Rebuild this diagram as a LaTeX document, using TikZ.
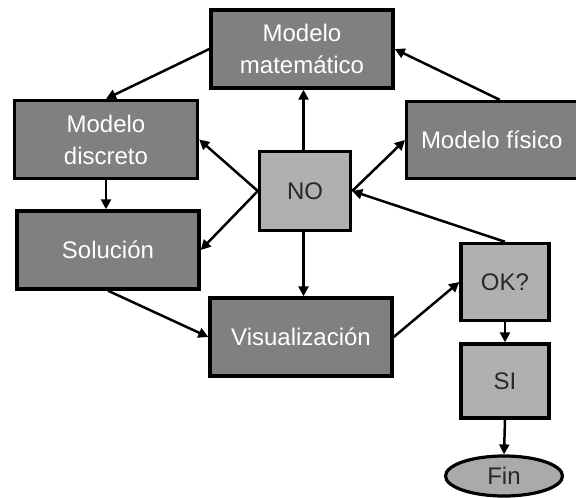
\documentclass[tikz,border=0pt]{standalone}
\usepackage{fontspec}
\setmainfont{Liberation Sans}
\usetikzlibrary{arrows.meta,shapes.geometric}
\definecolor{boxdark}{RGB}{128,128,128}
\definecolor{boxlight}{RGB}{176,176,176}
\definecolor{endfill}{RGB}{170,170,170}
\definecolor{inktext}{RGB}{40,40,40}
\begin{document}
\begin{tikzpicture}[x=1pt,y=-1pt,
  boxbase/.style={draw=black,line width=3.4pt,align=center,inner sep=0pt,
    font=\fontsize{24}{32}\selectfont},
  darkbox/.style={boxbase,fill=boxdark,text=white},
  lightbox/.style={boxbase,fill=boxlight,text=inktext},
  flow/.style={line width=2.5pt,-{Triangle[length=10pt,width=10pt]}}]
\useasboundingbox (0,0) rectangle (576,498);
% process boxes
\node[darkbox,minimum width=182pt,minimum height=78pt] (mat) at (302,49) {Modelo\\matemático};
\node[darkbox,minimum width=183pt,minimum height=78pt] (disc) at (106,139.5) {Modelo\\discreto};
\node[darkbox,minimum width=180pt,minimum height=77pt,anchor=west] (fis) at (405,140) {Modelo físico\hspace{10pt}};
\node[darkbox,minimum width=182pt,minimum height=78pt] (sol) at (108,250) {Solución};
\node[darkbox,minimum width=182pt,minimum height=78pt] (vis) at (301,337) {Visualización};
% decision boxes
\node[lightbox,minimum width=91pt,minimum height=79pt] (no) at (305,191) {NO};
\node[lightbox,minimum width=88pt,minimum height=77pt] (ok) at (505,282) {OK?};
\node[lightbox,minimum width=88pt,minimum height=74pt] (si) at (505,381) {SI};
\node[ellipse,draw=black,line width=3.2pt,fill=endfill,text=inktext,inner sep=0pt,
  minimum width=117pt,minimum height=40pt,font=\fontsize{24}{32}\selectfont] (fin) at (504,476) {Fin};
% connectors
\draw[flow] (mat.west) -- (disc.north);
\draw[flow] ([xshift=3pt]fis.north) -- (mat.east);
\draw[flow] ([xshift=-1.5pt]no.north) -- ([xshift=-1.5pt]no.north |- mat.south);
\draw[flow] (no.west) -- (disc.east);
\draw[flow] (no.west) -- (sol.east);
\draw[flow] (no.east) -- (fis.west);
\draw[flow] (ok.north) -- (no.east);
\draw[flow] (disc.south) -- (disc.south |- sol.north);
\draw[flow] ([xshift=-1.5pt]no.south) -- ([xshift=-1.5pt]no.south |- vis.north);
\draw[flow] (sol.south) -- (vis.west);
\draw[flow] (vis.east) -- (ok.west);
\draw[flow] (ok.south) -- (si.north);
\draw[flow] (si.south) -- (fin.north);
\end{tikzpicture}
\end{document}
